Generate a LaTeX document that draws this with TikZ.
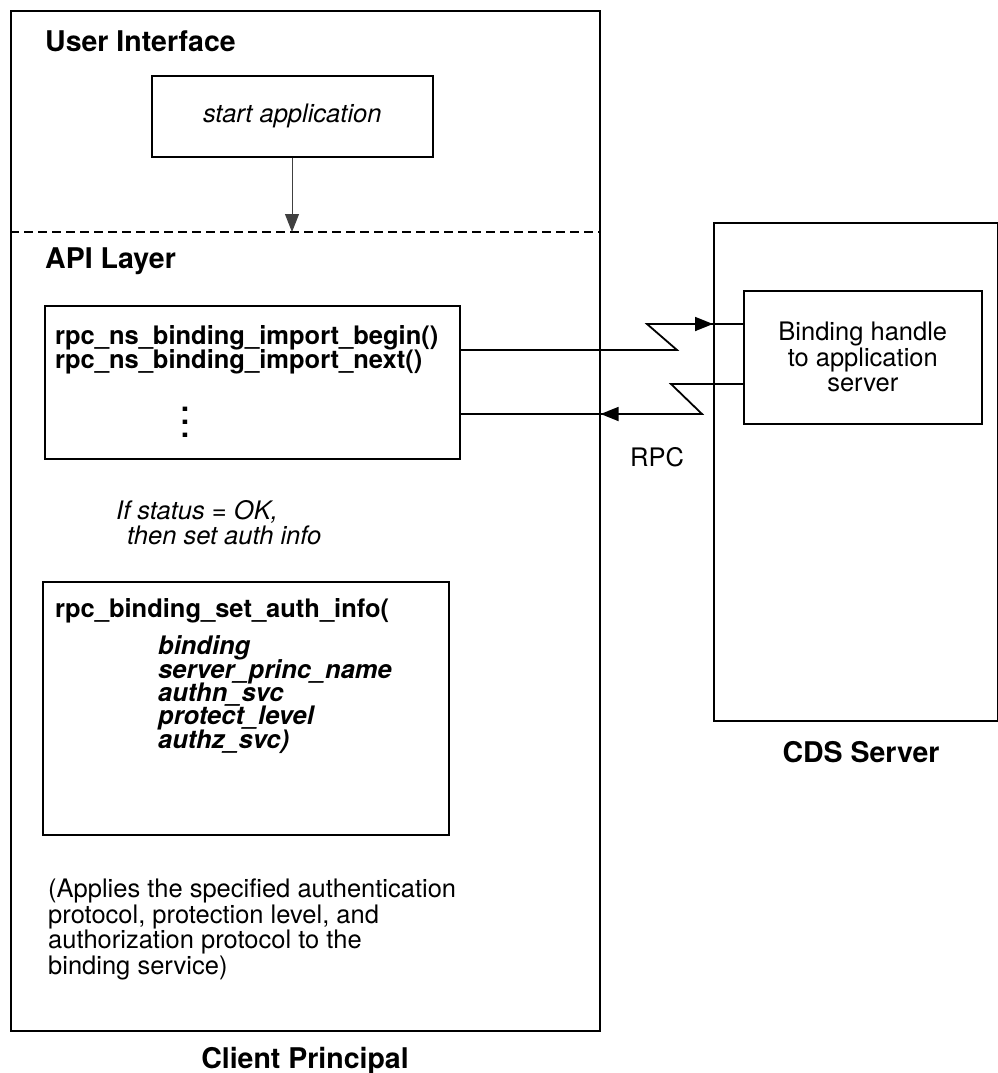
\documentclass[tikz,border=0pt]{standalone}
\usepackage{fontspec}
\setmainfont{TeX Gyre Heros}
\usetikzlibrary{arrows.meta,positioning,calc}
\setlength{\lineskiplimit}{-30pt}
\tikzset{
  frame/.style={draw,line width=1.6pt,inner sep=0pt,anchor=north west},
  head/.style={font=\fontsize{28.5}{30}\selectfont\bfseries,inner sep=0pt},
  txt/.style={font=\fontsize{25.5}{25.5}\selectfont,inner sep=0pt,align=left},
  call/.style={txt,font=\fontsize{25.5}{23.3}\selectfont\bfseries},
  parm/.style={txt,font=\fontsize{25.5}{23.3}\selectfont\bfseries\itshape},
  flow/.style={-{Triangle[length=18pt,width=14pt]},line width=1.8pt},
  rpc/.style={line width=1.8pt},
  layer/.style={dash pattern=on 9pt off 5pt,line width=1.6pt},
}

\begin{document}
\begin{tikzpicture}[x=1pt,y=-1pt]
  \useasboundingbox (0,0) rectangle (998,1073);
  % --- client principal ---
  \node[frame,minimum width=589pt,minimum height=1020pt] (client) at (10,10) {};
  \node[head,anchor=base west] (ui) at (45,52) {User Interface};
  \node[frame,minimum width=281pt,minimum height=81pt,
    font=\fontsize{25.5}{25.5}\selectfont\itshape] (start) at (151,75) {start application};
  \coordinate (split) at (292,232);
  \draw[layer] (client.west |- split) -- (client.east |- split);
  \draw[flow,line width=1pt,draw=black!75] (start.south -| split) -- (split);
  \node[head,anchor=base west] (api) at (45,268) {API Layer};
  \node[frame,minimum width=415pt,minimum height=153pt] (imp) at (44,305) {};
  % multi-line nodes: base = baseline of the last line
  \node[call,anchor=base west] (impcalls) at (55,368)
    {rpc\_ns\_binding\_import\_begin()\\rpc\_ns\_binding\_import\_next()};
  \node[txt,align=center,font=\fontsize{30}{13}\selectfont\bfseries] (more) at (185,422) {.\\.\\.};
  \node[txt,font=\fontsize{25.5}{25}\selectfont\itshape,anchor=base west] (cond) at (116,544)
    {If status = OK,\\\hspace*{11pt}then set auth info};
  \node[frame,minimum width=406pt,minimum height=253pt] (auth) at (42,581) {};
  \node[call,anchor=base west] (authcall) at (55,617) {rpc\_binding\_set\_auth\_info(};
  \node[parm,anchor=base west] (params) at (158,748)
    {binding\\server\_princ\_name\\authn\_svc\\protect\_level\\authz\_svc)};
  \node[txt,anchor=base west] (note) at (48,974)
    {(Applies the specified authentication\\protocol, protection level, and\\authorization protocol to the\\binding service)};
  \node[head,anchor=base] (cpname) at (305,1068) {Client Principal};
  % --- CDS server ---
  \node[frame,minimum width=284pt,minimum height=498pt] (cds) at (713,222) {};
  \node[frame,minimum width=238pt,minimum height=133pt,align=center,
    font=\fontsize{25.5}{25.5}\selectfont] (bind) at (743,290) {Binding handle\\to application\\server};
  \node[head,anchor=base] (cdsname) at (861,762) {CDS Server};
  \node[txt,anchor=base] (rpclbl) at (657,466) {RPC};
  % --- RPC connectors ---
  \coordinate (q1) at (677,350);
  \coordinate (q2) at (647,324);
  \coordinate (q3) at (671,384);
  \coordinate (q4) at (702,414);
  \draw[rpc] (imp.east |- q1) -- (q1) -- (q2) -- (bind.west |- q2);
  \draw[flow] (q2) -- (cds.west |- q2);
  \draw[rpc] (bind.west |- q3) -- (q3) -- (q4) -- (imp.east |- q4);
  \draw[flow] (q4) -- (client.east |- q4);
\end{tikzpicture}
\end{document}
